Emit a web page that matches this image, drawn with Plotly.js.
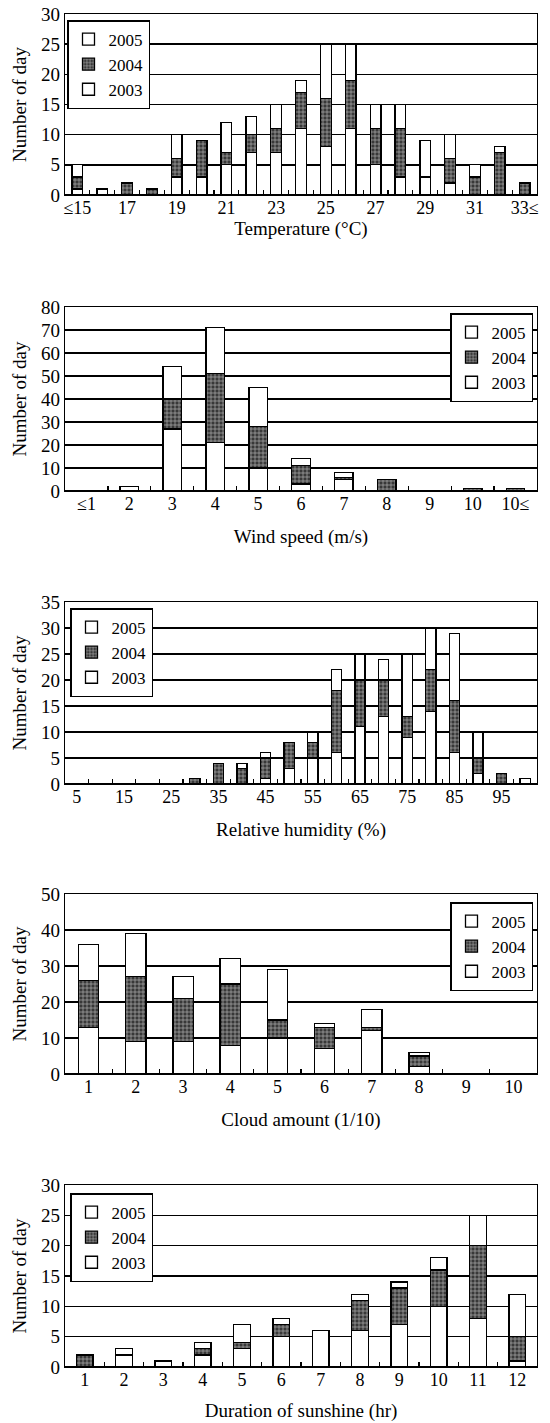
<!DOCTYPE html>
<html><head><meta charset="utf-8">
<script src="https://cdn.plot.ly/plotly-3.0.1.min.js"></script>
<style>html,body{margin:0;padding:0;background:#fff}#chart{width:550px;height:1423px}</style>
</head><body><div id="chart"></div>
<script>
const years = ["2003", "2004", "2005"];

// Temperature (°C)
const tempCats = ["≤15","16","17","18","19","20","21","22","23","24","25","26","27","28","29","30","31","32","33≤"];
const temp2003 = [1,1,0,0,3,3,5,7,7,11,8,11,5,3,3,2,0,0,0];
const temp2004 = [2,0,2,1,3,6,2,3,4,6,8,8,6,8,0,4,3,7,2];
const temp2005 = [2,0,0,0,4,0,5,3,4,2,9,6,4,4,6,4,2,1,0];

// Wind speed (m/s)
const windCats = ["≤1","2","3","4","5","6","7","8","9","10","10≤"];
const wind2003 = [0,2,27,21,10,3,5,0,0,0,0];
const wind2004 = [0,0,13,30,18,8,1,5,0,1,1];
const wind2005 = [0,0,14,20,17,3,2,0,0,0,0];

// Relative humidity (%)
const humCats = ["5","10","15","20","25","30","35","40","45","50","55","60","65","70","75","80","85","90","95","100"];
const hum2003 = [0,0,0,0,0,0,0,0,1,3,5,6,11,13,9,14,6,2,0,1];
const hum2004 = [0,0,0,0,0,1,4,3,4,5,3,12,9,7,4,8,10,3,2,0];
const hum2005 = [0,0,0,0,0,0,0,1,1,0,2,4,5,4,12,8,13,5,0,0];

// Cloud amount (1/10)
const cloudCats = ["1","2","3","4","5","6","7","8","9","10"];
const cloud2003 = [13,9,9,8,10,7,12,2,0,0];
const cloud2004 = [13,18,12,17,5,6,1,3,0,0];
const cloud2005 = [10,12,6,7,14,1,5,1,0,0];

// Duration of sunshine (hr)
const sunCats = ["1","2","3","4","5","6","7","8","9","10","11","12"];
const sun2003 = [0,2,1,2,3,5,6,6,7,10,8,1];
const sun2004 = [2,0,0,1,1,2,0,5,6,6,12,4];
const sun2005 = [0,1,0,1,3,1,0,1,1,2,5,7];

const W = 550, H = 1423;
const FONT = "Liberation Serif, Times New Roman, serif";

const panels = [
  {cats: tempCats, vals: [temp2003, temp2004, temp2005], title: "Temperature (°C)", ymax: 30, dtick: 5, step: 2,
   top: 14, bottom: 195, xstand: 0, leg: {x: 67, y: 20, anchor: "left"}},
  {cats: windCats, vals: [wind2003, wind2004, wind2005], title: "Wind speed (m/s)", ymax: 80, dtick: 10, step: 1,
   top: 307, bottom: 491, xstand: 17, leg: {x: 533, y: 313, anchor: "right"}},
  {cats: humCats, vals: [hum2003, hum2004, hum2005], title: "Relative humidity (%)", ymax: 35, dtick: 5, step: 2,
   top: 602, bottom: 784, xstand: 17, leg: {x: 70, y: 608, anchor: "left"}},
  {cats: cloudCats, vals: [cloud2003, cloud2004, cloud2005], title: "Cloud amount (1/10)", ymax: 50, dtick: 10, step: 1,
   top: 894, bottom: 1074, xstand: 17, leg: {x: 533, y: 902, anchor: "right"}},
  {cats: sunCats, vals: [sun2003, sun2004, sun2005], title: "Duration of sunshine (hr)", ymax: 30, dtick: 5, step: 1,
   top: 1185, bottom: 1367, xstand: 15, leg: {x: 70, y: 1193, anchor: "left"}}
];

const styles = [
  {color: "#ffffff"},
  {color: "#444444", pattern: {shape: "+", fgcolor: "#b0b0b0", bgcolor: "#383838", size: 4, solidity: 0.3}},
  {color: "#ffffff"}
];

const data = [];
const layout = {
  width: W, height: H,
  margin: {l: 0, r: 0, t: 0, b: 0},
  paper_bgcolor: "#fff", plot_bgcolor: "#fff",
  barmode: "stack", bargap: 0.57,
  font: {family: FONT, size: 18, color: "#000"},
  showlegend: true
};

panels.forEach((p, i) => {
  const n = i === 0 ? "" : String(i + 1);
  const xa = "x" + n, ya = "y" + n;
  const legName = "legend" + n;
  years.forEach((yr, k) => {
    const m = {color: styles[k].color, line: {color: "#000", width: 1.3}};
    if (styles[k].pattern) m.pattern = styles[k].pattern;
    data.push({
      type: "bar", name: yr, x: p.cats, y: p.vals[k],
      xaxis: xa, yaxis: ya, marker: m, legend: legName,
      hoverinfo: "x+y+name"
    });
  });
  layout["xaxis" + n] = {
    domain: [65 / W, 537 / W], anchor: ya, type: "category",
    tickmode: "linear", tick0: 0, dtick: 1, ticklabelstep: p.step, tickangle: 0,
    ticklabelstandoff: -4,
    tickson: "boundaries", ticks: "inside", ticklen: 5, tickwidth: 1.2, tickcolor: "#000",
    showgrid: false, showline: true, mirror: true, linecolor: "#000", linewidth: 1.2,
    tickfont: {family: FONT, size: 18, color: "#000"},
    title: {text: p.title, font: {family: FONT, size: 19, color: "#000"}, standoff: p.xstand},
    automargin: false, fixedrange: true
  };
  layout["yaxis" + n] = {
    domain: [1 - p.bottom / H, 1 - p.top / H], anchor: xa,
    range: [0, p.ymax], dtick: p.dtick, tick0: 0,
    showgrid: true, gridcolor: "#000", gridwidth: 1.4,
    zeroline: true, zerolinecolor: "#000", zerolinewidth: 1.4,
    showline: true, mirror: true, linecolor: "#000", linewidth: 1.2,
    ticks: "", tickfont: {family: FONT, size: 19, color: "#000"},
    title: {text: "Number of day", font: {family: FONT, size: 19, color: "#000"}, standoff: 9},
    automargin: false, fixedrange: true
  };
  layout[legName] = {
    x: p.leg.x / W, y: 1 - p.leg.y / H, xref: "paper", yref: "paper",
    xanchor: p.leg.anchor, yanchor: "top",
    bgcolor: "#fff", bordercolor: "#000", borderwidth: 1.5,
    font: {family: FONT, size: 17, color: "#000"},
    traceorder: "reversed", itemwidth: 30, tracegroupgap: 0
  };
});

Plotly.newPlot("chart", data, layout, {displayModeBar: false, staticPlot: true});
</script></body></html>
